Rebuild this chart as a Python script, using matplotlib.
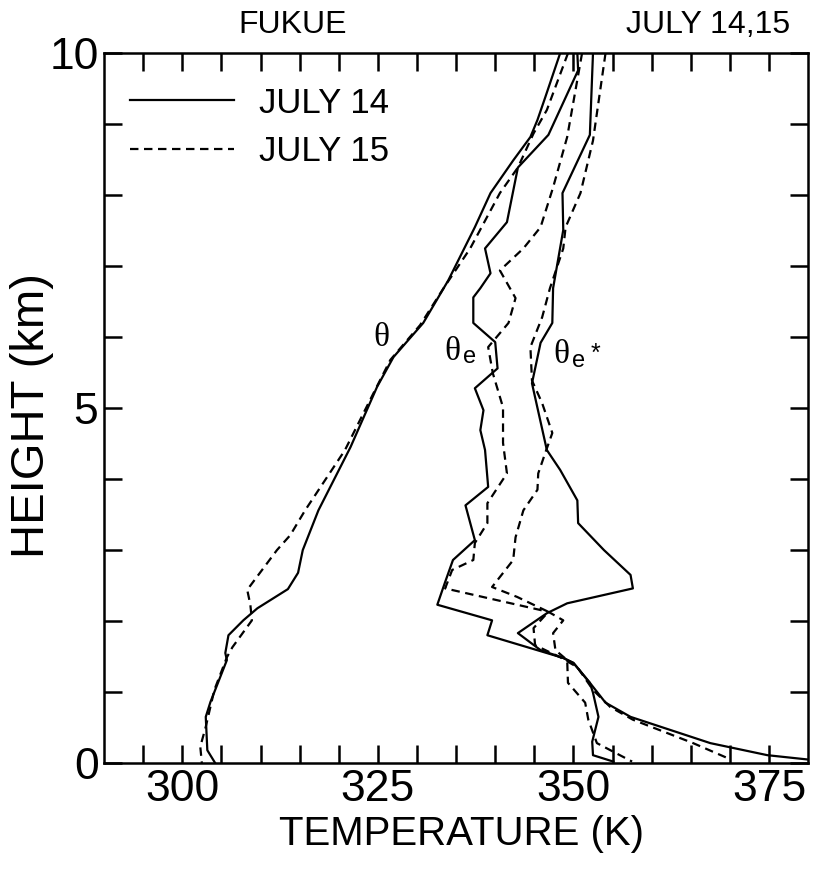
import matplotlib
matplotlib.use("Agg")
import matplotlib.pyplot as plt
import numpy as np

plt.rcParams['font.family'] = ['Liberation Sans', 'DejaVu Sans']

# theta (K) vs height (km)
th14_T = [348.3, 346.4, 345.4, 344.5, 342.3, 339.4, 337.4, 334.0, 330.8, 327.0, 324.9, 321.5,
          317.4, 315.4, 314.8, 313.5, 309.6, 307.8, 305.9, 305.5, 305.7, 303.6, 303.0, 303.2, 304.2]
th14_z = [10.0, 9.38, 9.06, 8.82, 8.49, 8.03, 7.55, 6.80, 6.20, 5.72, 5.30, 4.45,
          3.56, 3.00, 2.68, 2.45, 2.18, 2.01, 1.80, 1.55, 1.45, 0.86, 0.65, 0.18, 0.0]

th15_T = [349.3, 346.6, 344.9, 342.9, 340.6, 336.8, 333.4, 330.4, 326.6, 324.3, 320.8, 315.7,
          313.8, 312.1, 308.3, 308.7, 308.9, 306.4, 305.7, 304.1, 303.0, 302.3, 302.5]
th15_z = [10.0, 9.20, 8.87, 8.39, 8.03, 7.25, 6.69, 6.17, 5.68, 5.18, 4.41, 3.56,
          3.21, 3.00, 2.44, 2.23, 2.01, 1.63, 1.49, 1.03, 0.51, 0.23, 0.0]

# theta_e
the14_T = [350.5, 350.6, 346.8, 342.9, 341.5, 338.7, 339.4, 338.1, 337.2, 337.2, 340.0, 340.3,
           337.4, 338.5, 338.1, 338.7, 339.1, 336.2, 337.4, 334.6, 333.6, 332.6, 339.6, 339.0,
           348.7, 350.0, 352.1, 352.5, 353.2, 352.4, 352.5, 355.1]
the14_z = [10.0, 9.76, 8.85, 8.39, 7.62, 7.25, 6.90, 6.69, 6.56, 6.20, 5.93, 5.56,
           5.28, 4.97, 4.69, 4.41, 3.89, 3.63, 3.14, 2.86, 2.55, 2.23, 2.01, 1.80,
           1.48, 1.41, 1.13, 0.99, 0.65, 0.30, 0.11, 0.02]

the15_T = [351.1, 349.2, 347.4, 345.8, 343.6, 340.6, 342.6, 341.7, 339.1, 339.7, 341.0, 341.0,
           341.5, 339.0, 339.0, 337.4, 337.2, 334.5, 333.6, 346.8, 348.7, 347.4, 347.7, 349.2,
           349.3, 351.5, 351.9, 353.0, 357.5]
the15_z = [10.0, 8.82, 8.11, 7.55, 7.25, 6.94, 6.55, 6.20, 5.86, 5.49, 5.01, 4.51,
           4.08, 3.66, 3.38, 3.10, 2.86, 2.72, 2.46, 2.13, 2.01, 1.83, 1.59, 1.45,
           1.13, 0.85, 0.61, 0.28, 0.02]

# saturated theta_e*
ths14_T = [352.5, 352.1, 348.6, 348.7, 347.4, 347.3, 345.8, 344.7, 346.6, 348.3, 350.5, 350.6,
           353.9, 357.3, 357.6, 349.2, 346.6, 342.9, 345.8, 348.7, 350.0, 352.1, 354.1, 357.3,
           367.5, 374.8, 379.9]
ths14_z = [10.0, 8.85, 8.03, 7.51, 6.69, 6.20, 5.92, 5.35, 4.41, 4.13, 3.70, 3.38,
           3.00, 2.65, 2.46, 2.25, 2.11, 1.83, 1.59, 1.48, 1.41, 1.13, 0.85, 0.65,
           0.28, 0.11, 0.05]

ths15_T = [354.1, 352.5, 350.9, 349.0, 348.7, 347.0, 346.0, 344.5, 344.7, 346.0, 347.3, 346.4,
           345.5, 345.4, 343.6, 342.6, 342.3, 339.6, 342.8, 346.8, 344.9, 345.1, 348.3, 350.5,
           352.5, 354.7, 357.6, 365.3, 370.1]
ths15_z = [10.0, 8.77, 8.03, 7.55, 7.25, 6.69, 6.28, 5.86, 5.39, 5.07, 4.65, 4.37,
           4.08, 3.85, 3.56, 3.18, 2.86, 2.48, 2.34, 2.13, 1.90, 1.66, 1.49, 1.35,
           1.03, 0.79, 0.61, 0.28, 0.05]

fig = plt.figure(figsize=(8.13, 8.73), dpi=100)
ax = fig.add_axes([0.128, 0.126, 0.866, 0.813])

lw = 1.6
dash = (3.8, 2.5)
ax.plot(th14_T, th14_z, color='black', lw=lw, label='JULY 14')
ax.plot(th15_T, th15_z, color='black', lw=lw, dashes=dash, label='JULY 15')
ax.plot(the14_T, the14_z, color='black', lw=lw)
ax.plot(the15_T, the15_z, color='black', lw=lw, dashes=dash)
ax.plot(ths14_T, ths14_z, color='black', lw=lw)
ax.plot(ths15_T, ths15_z, color='black', lw=lw, dashes=dash)

# curve labels
serif = ['Liberation Serif', 'DejaVu Serif']
ax.text(325.4, 5.99, 'θ', family=serif, fontsize=24, ha='center', va='center')
ax.text(334.5, 5.79, 'θ', family=serif, fontsize=24, ha='center', va='center')
ax.text(336.7, 5.72, 'e', fontsize=17, ha='center', va='center')
ax.text(348.4, 5.75, 'θ', family=serif, fontsize=24, ha='center', va='center')
ax.text(350.7, 5.66, 'e', fontsize=17, ha='center', va='center')
ax.text(352.8, 5.76, '*', fontsize=18, ha='center', va='center')

ax.set_xlim(290, 380)
ax.set_ylim(0, 10)
ax.set_xticks([300, 325, 350, 375])
ax.set_xticks(np.arange(295, 380, 5), minor=True)
ax.set_yticks([0, 5, 10])
ax.set_yticks(np.arange(1, 10, 1), minor=True)
ax.tick_params(which='both', direction='in', top=True, right=True, length=13, width=1.8,
               labelsize=32, pad=4)
for s in ax.spines.values():
    s.set_linewidth(1.8)

ax.set_xlabel('TEMPERATURE (K)', fontsize=29, va='center')
ax.xaxis.set_label_coords(0.507, -0.1)
ax.set_ylabel('HEIGHT (km)', fontsize=34, va='center')
ax.yaxis.set_label_coords(-0.103, 0.49)

fig.text(0.36, 0.971, 'FUKUE', fontsize=23, ha='center', va='center')
fig.text(0.972, 0.971, 'JULY 14,15', fontsize=23, ha='right', va='center')

ax.legend(loc='upper left', bbox_to_anchor=(0.037, 0.953), frameon=False, fontsize=25,
          handlelength=3.0, handletextpad=0.7, labelspacing=0.45, borderpad=0, borderaxespad=0)

fig.savefig('out.png', dpi=100)
